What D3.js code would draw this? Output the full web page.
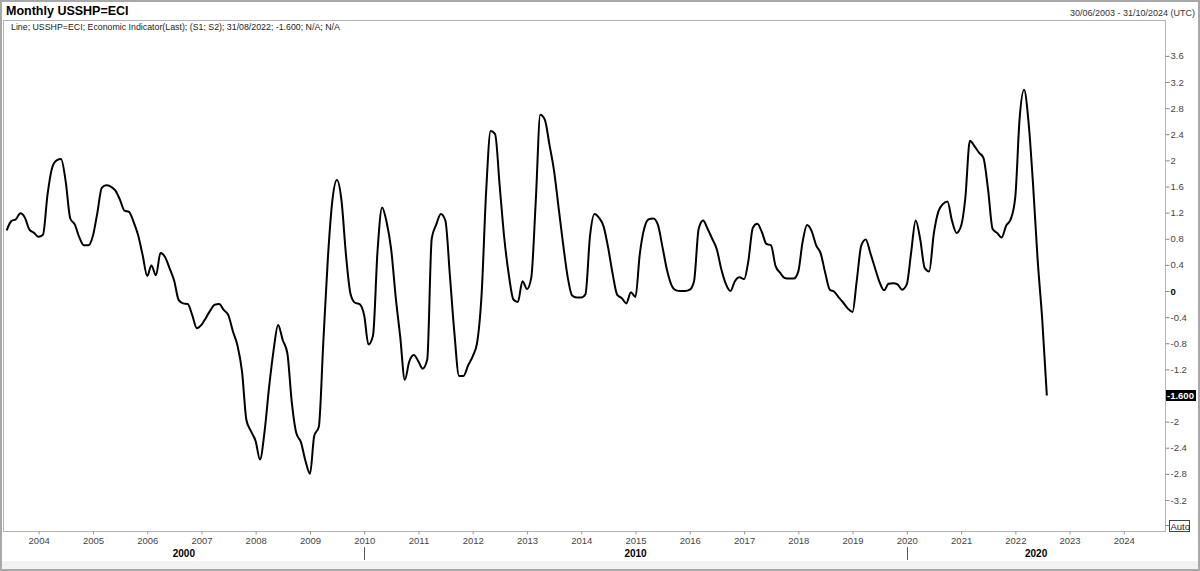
<!DOCTYPE html>
<html><head><meta charset="utf-8">
<script src="https://cdn.jsdelivr.net/npm/d3@7"></script>
<style>
body{margin:0;background:#fff}
svg{display:block;font-family:Arial,"Liberation Sans",sans-serif}
</style>
</head><body>
<svg id="c" width="1200" height="571"></svg>
<script>
// ---- data (monthly, month-end, starting June 2003) ----
const startYear = 2003, startMonthIndex = 5; // June
const values = [
 0.93,1.07,1.10,1.19,1.12,0.94,0.89,
 0.83,0.86,1.48,1.88,2.00,2.02,1.68,1.11,1.02,0.82,0.70,0.70,
 0.85,1.18,1.58,1.62,1.60,1.54,1.40,1.23,1.21,1.06,0.86,0.55,
 0.23,0.39,0.24,0.58,0.52,0.35,0.16,-0.14,-0.19,-0.20,-0.37,-0.57,
 -0.52,-0.42,-0.30,-0.21,-0.20,-0.29,-0.37,-0.62,-0.83,-1.23,-1.98,-2.15,
 -2.30,-2.58,-2.15,-1.48,-0.90,-0.52,-0.75,-0.95,-1.70,-2.18,-2.31,-2.60,
 -2.80,-2.22,-2.08,-0.80,0.50,1.38,1.70,1.38,0.55,-0.05,-0.18,-0.20,
 -0.38,-0.82,-0.68,0.60,1.28,1.06,0.64,-0.10,-0.70,-1.36,-1.08,-0.98,
 -1.08,-1.19,-1.05,0.80,1.02,1.18,1.08,0.22,-0.65,-1.30,-1.30,-1.14,
 -1.00,-0.80,-0.05,1.50,2.45,2.40,1.60,0.80,0.25,-0.13,-0.17,0.15,
 0.03,0.20,1.40,2.70,2.62,2.25,1.85,1.28,0.73,0.22,-0.07,-0.10,
 -0.10,-0.05,0.85,1.18,1.12,0.99,0.66,0.25,-0.06,-0.11,-0.19,-0.02,
 -0.09,0.55,0.96,1.10,1.11,1.02,0.68,0.32,0.09,0.01,0.00,0.00,
 0.02,0.15,0.95,1.08,0.95,0.80,0.64,0.33,0.11,0.00,0.15,0.21,
 0.18,0.45,0.97,1.03,0.90,0.72,0.70,0.38,0.28,0.20,0.19,0.19,
 0.30,0.74,1.01,0.92,0.70,0.58,0.28,0.02,-0.01,-0.10,-0.18,-0.27,
 -0.32,0.15,0.70,0.79,0.58,0.36,0.14,0.01,0.11,0.12,0.10,0.02,
 0.10,0.58,1.08,0.80,0.35,0.30,0.88,1.22,1.33,1.37,1.08,0.89,
 1.00,1.42,2.30,2.22,2.12,2.04,1.56,0.95,0.89,0.82,1.00,1.10,
 1.45,2.62,3.08,2.58,1.60,0.48,-0.44,-1.60
];
const yTickValues = [3.6,3.2,2.8,2.4,2,1.6,1.2,0.8,0.4,0,-0.4,-0.8,-1.2,-2,-2.4,-2.8,-3.2];
const xTickYears = d3.range(2004, 2025);
const decadeLabels = ["2000","2010","2020"];
const decadeBreaks = [2010, 2020];
const titleText = "Monthly USSHP=ECI";
const rangeText = "30/06/2003 - 31/10/2024 (UTC)";
const legendText = "Line; USSHP=ECI; Economic Indicator(Last); (S1; S2); 31/08/2022; -1.600; N/A; N/A";
const lastValueLabel = "-1.600";

// ---- build ----
const monthEnd = i => new Date(Date.UTC(startYear, startMonthIndex + i + 1, 0));
const data = values.map((v, i) => ({date: monthEnd(i), value: v}));

const svg = d3.select("#c");
const frame = {l: 3.5, r: 1165.5, t: 20.5, b: 531.5};

const x = d3.scaleUtc()
  .domain([new Date(Date.UTC(2003,5,30)), new Date(Date.UTC(2024,9,31))])
  .range([6.7, 1164.5]);
const y = d3.scaleLinear().domain([0, 3.6]).range([291, 55.9]);

// background + outer border
svg.append("rect").attr("x",0).attr("y",0).attr("width",1200).attr("height",571).attr("fill","#fff");
svg.append("rect").attr("x",0).attr("y",561).attr("width",1200).attr("height",10).attr("fill","#f2f2f2");
svg.append("rect").attr("x",1).attr("y",1).attr("width",1198).attr("height",569)
  .attr("fill","none").attr("stroke","#a8a8a8").attr("stroke-width",2);

// plot frame
svg.append("rect").attr("x",frame.l).attr("y",frame.t)
  .attr("width",frame.r-frame.l).attr("height",frame.b-frame.t)
  .attr("fill","none").attr("stroke","#b4b4b4").attr("stroke-width",1);

// title, range, legend
svg.append("text").attr("x",6).attr("y",15).attr("font-size",12.5).attr("font-weight","bold")
  .attr("fill","#000").text(titleText);
svg.append("text").attr("x",1195).attr("y",16).attr("font-size",9).attr("text-anchor","end")
  .attr("fill","#333").text(rangeText);
svg.append("text").attr("x",11).attr("y",29.5).attr("font-size",8.8)
  .attr("fill","#222").text(legendText);

// y axis (right)
const yAxis = d3.axisRight(y).tickValues(yTickValues).tickSize(4).tickPadding(1)
  .tickFormat(d => d === 0 ? "0" : String(d).replace("\u2212","-"));
const gy = svg.append("g").attr("transform",`translate(${frame.r},0)`).call(yAxis);
gy.select(".domain").remove();
gy.selectAll(".tick line").attr("stroke","#888");
gy.selectAll(".tick text").attr("font-size",9.5)
  .attr("font-family","Arial,'Liberation Sans',sans-serif")
  .attr("font-weight", d => d === 0 ? "bold" : "normal")
  .style("fill", d => d === 0 ? "#000" : "#444");

// last value badge
const yl = y(values[values.length-1]);
svg.append("line").attr("x1",frame.r).attr("x2",frame.r+4).attr("y1",yl).attr("y2",yl).attr("stroke","#888");
svg.append("rect").attr("x",1166).attr("y",yl-5.5).attr("width",30).attr("height",11).attr("fill","#000");
svg.append("text").attr("x",1167).attr("y",yl+3.5).attr("font-size",9.5).attr("font-weight","bold")
  .attr("fill","#fff").text(lastValueLabel);

// Auto box
svg.append("line").attr("x1",frame.r).attr("x2",frame.r+4).attr("y1",525.5).attr("y2",525.5).attr("stroke","#888");
svg.append("rect").attr("x",1169.5).attr("y",520.5).attr("width",20).attr("height",11)
  .attr("fill","#fff").attr("stroke","#444").attr("stroke-width",1);
svg.append("text").attr("x",1170.5).attr("y",529.5).attr("font-size",9.5).attr("fill","#222").text("Auto");

// x axis
const xTickDates = xTickYears.map(yr => new Date(Date.UTC(yr,0,31)));
const xAxis = d3.axisBottom(x).tickValues(xTickDates).tickSize(3).tickPadding(3)
  .tickFormat(d3.utcFormat("%Y"));
const gx = svg.append("g").attr("transform",`translate(0,${frame.b})`).call(xAxis);
gx.select(".domain").remove();
gx.selectAll(".tick line").attr("stroke","#999");
gx.selectAll(".tick text").attr("fill","#444").attr("font-size",9.5)
  .attr("font-family","Arial,'Liberation Sans',sans-serif");

// decade separators and labels
const breakX = decadeBreaks.map(yr => x(new Date(Date.UTC(yr,0,31))));
const bounds = [frame.l, ...breakX, frame.r];
breakX.forEach(bx => {
  svg.append("line").attr("x1",Math.round(bx)+0.5).attr("x2",Math.round(bx)+0.5)
    .attr("y1",547).attr("y2",560).attr("stroke","#555");
});
decadeLabels.forEach((lab, i) => {
  svg.append("text").attr("x",(bounds[i]+bounds[i+1])/2).attr("y",557)
    .attr("text-anchor","middle").attr("font-size",10).attr("font-weight","bold")
    .attr("fill","#000").text(lab);
});

// line
const line = d3.line().x(d => x(d.date)).y(d => y(d.value)).curve(d3.curveMonotoneX);
svg.append("path").datum(data).attr("d",line).attr("fill","none")
  .attr("stroke","#000").attr("stroke-width",2).attr("stroke-linejoin","round");
</script>
</body></html>
